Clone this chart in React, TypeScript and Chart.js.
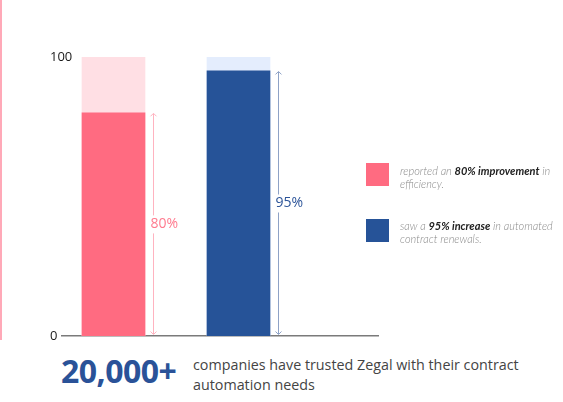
import React, { useEffect, useRef } from "react";
import { Chart, registerables } from "chart.js";

Chart.register(...registerables);

const categories = ["Efficiency", "Contract renewals"];
const values = [80, 95];
const fullValues = [100, 100];
const valueLabels = ["80%", "95%"];
const yTicks = [0, 100];
const barColors = ["#ff6b81", "#265398"];
const backColors = ["#ffdfe4", "#e4edfd"];
const arrowColors = ["#ffb3c0", "#8ea2c6"];
const labelColors = ["#ff7a8e", "#2c5499"];

const arrowPlugin = {
  id: "arrows",
  afterDatasetsDraw(chart: any) {
    const meta = chart.getDatasetMeta(0);
    const ctx = chart.ctx;
    meta.data.forEach((bar: any, i: number) => {
      const right = bar.x + bar.width / 2;
      const ax = Math.round(right + 8) + 0.5;
      const top = bar.y;
      const bottom = bar.base;
      const mid = (top + bottom) / 2;
      ctx.save();
      ctx.strokeStyle = arrowColors[i];
      ctx.lineWidth = 1;
      ctx.beginPath();
      ctx.moveTo(ax, top + 1);
      ctx.lineTo(ax, mid - 9);
      ctx.moveTo(ax, mid + 9);
      ctx.lineTo(ax, bottom - 2);
      ctx.stroke();
      ctx.beginPath();
      ctx.moveTo(ax - 3, top + 3.5);
      ctx.lineTo(ax, top + 0.5);
      ctx.lineTo(ax + 3, top + 3.5);
      ctx.moveTo(ax - 3, bottom - 4.5);
      ctx.lineTo(ax, bottom - 1.5);
      ctx.lineTo(ax + 3, bottom - 4.5);
      ctx.stroke();
      ctx.fillStyle = labelColors[i];
      ctx.font = "14px 'Open Sans'";
      ctx.textAlign = "left";
      ctx.textBaseline = "middle";
      ctx.fillText(valueLabels[i], right + 5.5, mid);
      ctx.restore();
    });
  },
};

export default function App() {
  const ref = useRef<HTMLCanvasElement>(null);
  useEffect(() => {
    document.body.style.margin = "0";
    const chart = new Chart(ref.current!, {
      type: "bar",
      data: {
        labels: categories,
        datasets: [
          {
            data: values.map((v, i) => ({ x: i, y: v })),
            backgroundColor: barColors,
            barThickness: 63,
            grouped: false,
          },
          {
            data: fullValues.map((v, i) => ({ x: i, y: v })),
            backgroundColor: backColors,
            barThickness: 63,
            grouped: false,
          },
        ],
      },
      options: {
        animation: false,
        responsive: false,
        maintainAspectRatio: false,
        layout: { padding: { left: 50, right: 185, top: 57, bottom: 9 } },
        plugins: { legend: { display: false }, tooltip: { enabled: false } },
        scales: {
          x: {
            type: "linear",
            offset: false,
            min: -0.412,
            max: 2.116,
            grid: { display: false },
            ticks: { display: false },
            border: { display: true, color: "#7a7a7a", width: 1.5 },
            afterFit: (s: any) => {
              s.height = 0;
            },
          },
          y: {
            min: 0,
            max: 100,
            afterBuildTicks: (s: any) => {
              s.ticks = yTicks.map((v) => ({ value: v }));
            },
            grid: { display: false },
            border: { display: false },
            ticks: {
              mirror: true,
              crossAlign: "near",
              padding: -12,
              color: "#1a1a1a",
              font: { family: "'Open Sans'", size: 13 },
            },
            afterFit: (s: any) => {
              s.width = 12;
            },
          },
        },
      },
      plugins: [arrowPlugin],
    } as any);
    return () => chart.destroy();
  }, []);

  const legendText: React.CSSProperties = {
    position: "absolute",
    left: 400,
    width: 160,
    fontFamily: "Lato",
    fontStyle: "italic",
    fontWeight: 300,
    fontSize: 11,
    lineHeight: "13px",
    color: "#8a8a8a",
  };
  const bold: React.CSSProperties = { fontWeight: 700, color: "#222" };

  return (
    <div style={{ position: "relative", width: 563, height: 402, background: "#fff", overflow: "hidden" }}>
      <div style={{ position: "absolute", left: 0, top: 0, width: 1.5, height: 340, background: "#ffa9b8" }} />
      <canvas ref={ref} width={563} height={345} style={{ position: "absolute", left: 0, top: 0 }} />
      <div style={{ position: "absolute", left: 366, top: 163, width: 23, height: 23, background: barColors[0] }} />
      <div style={{ ...legendText, top: 164 }}>
        reported an <span style={bold}>80% improvement</span> in efficiency.
      </div>
      <div style={{ position: "absolute", left: 366, top: 219, width: 23, height: 23, background: barColors[1] }} />
      <div style={{ ...legendText, top: 219 }}>
        saw a <span style={bold}>95% increase</span> in automated contract renewals.
      </div>
      <div
        style={{
          position: "absolute",
          left: 61,
          top: 346,
          fontFamily: "'Open Sans'",
          fontWeight: 700,
          fontSize: 32,
          lineHeight: "50px",
          color: "#2a5298",
          letterSpacing: -0.5,
        }}
      >
        20,000+
      </div>
      <div
        style={{
          position: "absolute",
          left: 193,
          top: 355,
          width: 340,
          fontFamily: "'Open Sans'",
          fontSize: 14.3,
          lineHeight: "20px",
          color: "#444",
        }}
      >
        companies have trusted Zegal with their contract automation needs
      </div>
    </div>
  );
}
